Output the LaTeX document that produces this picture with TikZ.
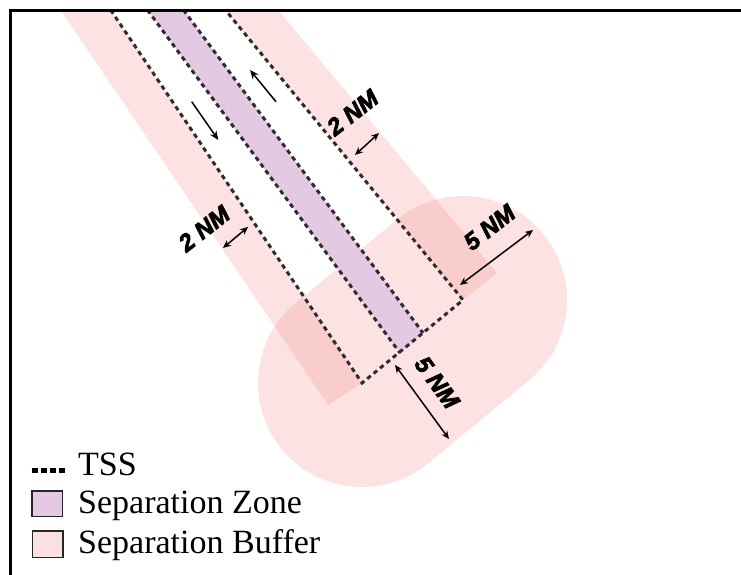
\documentclass[tikz,border=0pt]{standalone}
\usepackage{fontspec}
\setmainfont{Liberation Serif}
\newfontfamily\labfont[FakeBold=3]{Liberation Sans}
\usetikzlibrary{arrows.meta}
\definecolor{bufpink}{RGB}{245,150,150}
\definecolor{legpink}{RGB}{252,224,224}
\definecolor{zonepurple}{RGB}{227,201,225}
\definecolor{tssgray}{RGB}{45,45,45}
\tikzset{
  tssline/.style={draw=tssgray, line width=3pt, dash pattern=on 4.5pt off 3.8pt},
  bufferfill/.style={fill=bufpink, fill opacity=0.28},
  dimarrow/.style={line width=1.5pt, {Stealth[length=8pt,width=7pt]}-{Stealth[length=8pt,width=7pt]}},
  flowarrow/.style={line width=1.5pt, -{Stealth[length=9pt,width=7.5pt]}},
  nmlabel/.style={font=\labfont\bfseries\itshape\fontsize{24}{24}\selectfont, inner sep=0pt},
  legtext/.style={font=\fontsize{34}{34}\selectfont, anchor=base west, inner sep=0pt},
  legbox/.style={draw=black!85, line width=1.5pt},
}
\begin{document}
\begin{tikzpicture}[x=1pt,y=-1pt]
\useasboundingbox (0,0) rectangle (741,575);
% geometry
\coordinate (LBt) at (60.6,10);
\coordinate (LBb) at (328,405);
\coordinate (LOt) at (110.7,10);
\coordinate (LOb) at (362,383);
\coordinate (PLt) at (147.5,10);
\coordinate (PLb) at (400,353);
\coordinate (PRt) at (183.5,10);
\coordinate (PRb) at (423,333);
\coordinate (ROt) at (225.4,10);
\coordinate (ROb) at (463,300);
\coordinate (RBt) at (278.3,10);
\coordinate (RBb) at (497,273);
\begin{scope}
  \clip (10,10) rectangle (741,575);
  % end buffer (stadium)
  \draw[line width=208pt, line cap=round, draw=bufpink, draw opacity=0.28] (LOb) -- (ROb);
  % side buffers
  \fill[bufferfill] (LBt) -- (LBb) -- (LOb) -- (LOt) -- cycle;
  \fill[bufferfill] (ROt) -- (ROb) -- (RBb) -- (RBt) -- cycle;
  % separation zone
  \fill[zonepurple] (PLt) -- (PLb) -- (PRb) -- (PRt) -- cycle;
  % TSS boundaries
  \draw[tssline] (LOt) -- (LOb) -- (ROb) -- (ROt);
  \draw[tssline] (PLt) -- (PLb);
  \draw[tssline] (PRt) -- (PRb);
\end{scope}
% traffic direction arrows
\coordinate (fa1) at (191.7,101.7); \coordinate (fa2) at (218.3,140);
\coordinate (fb1) at (276,101.7);   \coordinate (fb2) at (250,70);
\draw[flowarrow] (fa1) -- (fa2);
\draw[flowarrow] (fb1) -- (fb2);
% dimension arrows
\coordinate (d1a) at (223,248); \coordinate (d1b) at (248,227);
\coordinate (d2a) at (355,155); \coordinate (d2b) at (379,133);
\coordinate (d3a) at (460,285); \coordinate (d3b) at (533,230);
\coordinate (d4a) at (395,365); \coordinate (d4b) at (449,439);
\draw[dimarrow] (d1a) -- (d1b);
\draw[dimarrow] (d2a) -- (d2b);
\draw[dimarrow] (d3a) -- (d3b);
\draw[dimarrow] (d4a) -- (d4b);
% labels
\node[nmlabel, rotate=38] (lab1) at (204,228.5) {2 NM};
\node[nmlabel, rotate=38] (lab2) at (352.5,112.5) {2 NM};
\node[nmlabel, rotate=38] (lab3) at (489.5,227.5) {5 NM};
\node[nmlabel, rotate=-54] (lab4) at (437,382.5) {5 NM};
% frame
\draw[line width=2.6pt, line cap=rect] (741,10.5) -- (10.3,10.5) -- (10.3,575);
% legend
\draw[line width=5.5pt, dash pattern=on 6pt off 3.1pt] (31.7,470.5) -- (65,470.5);
\node[legtext] (leg1) at (78,475) {TSS};
\draw[legbox, fill=zonepurple] (32,491) rectangle (62.5,516.7);
\node[legtext] (leg2) at (78,513) {Separation Zone};
\draw[legbox, fill=legpink] (32.5,531) rectangle (63,557.3);
\node[legtext] (leg3) at (78,553) {Separation Buffer};
\end{tikzpicture}
\end{document}
